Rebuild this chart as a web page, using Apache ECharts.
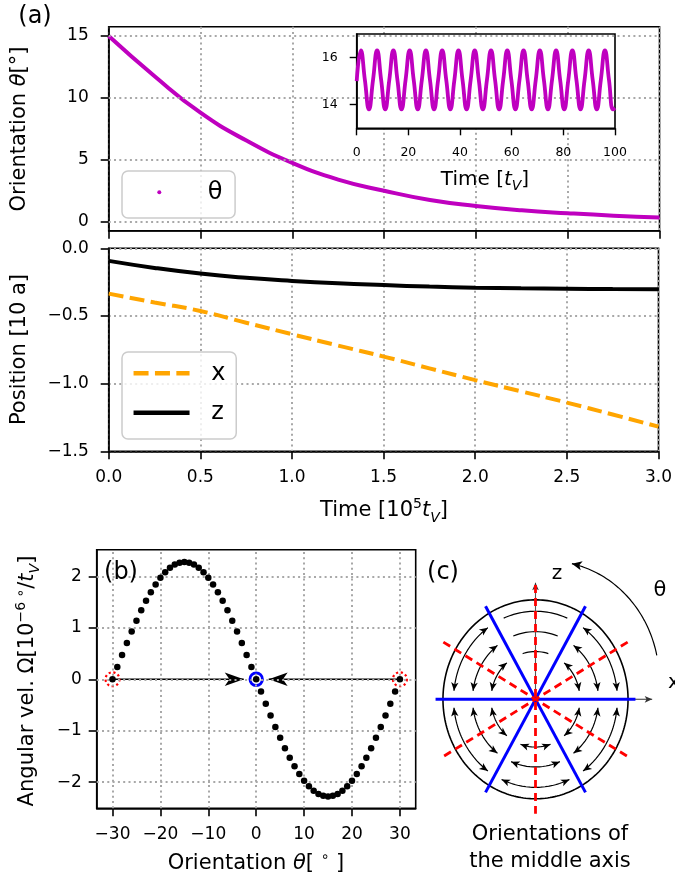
<!DOCTYPE html>
<html>
<head>
<meta charset="utf-8">
<script src="https://cdn.jsdelivr.net/npm/echarts@6/dist/echarts.min.js"></script>
<style>
html,body{margin:0;padding:0;background:#fff;}
#chart{width:675px;height:879px;}
</style>
</head>
<body>
<div id="chart"></div>
<script>
// ---------- (a) orientation and position vs. time (time in 1e5 t_V) ----------
const timeA  = [0, 0.25, 0.5, 0.75, 1.0, 1.25, 1.5, 1.75, 2.0, 2.25, 2.5, 2.75, 3.0];
const thetaA = [15.0, 11.75, 8.8, 6.55, 4.75, 3.4, 2.5, 1.75, 1.27, 0.92, 0.68, 0.48, 0.33];
const posX   = [-0.335, -0.40, -0.463, -0.55, -0.635, -0.718, -0.80, -0.887, -0.974, -1.057, -1.14, -1.228, -1.318];
const posZ   = [-0.093, -0.145, -0.187, -0.218, -0.241, -0.259, -0.272, -0.283, -0.291, -0.296, -0.299, -0.301, -0.302];

// inset: short-time oscillation of theta (time in t_V)
const insetTime = [0,
  1.6, 3.17, 4.75, 6.32, 7.9, 9.47, 11.05, 12.62, 14.2, 15.77, 17.35, 18.92,
  20.5, 22.07, 23.65, 25.22, 26.8, 28.37, 29.95, 31.52, 33.1, 34.67, 36.25, 37.82,
  39.4, 40.97, 42.55, 44.12, 45.7, 47.27, 48.85, 50.42, 52.0, 53.57, 55.15, 56.72,
  58.3, 59.87, 61.45, 63.02, 64.6, 66.17, 67.75, 69.32, 70.9, 72.47, 74.05, 75.62,
  77.2, 78.77, 80.35, 81.92, 83.5, 85.07, 86.65, 88.22, 89.8, 91.37, 92.95, 94.52,
  96.1, 97.67, 99.25, 100];
const insetTheta = [15.0,
  16.3, 15.05, 13.8, 15.05, 16.3, 15.05, 13.8, 15.05, 16.3, 15.05, 13.8, 15.05,
  16.3, 15.05, 13.8, 15.05, 16.3, 15.05, 13.8, 15.05, 16.3, 15.05, 13.8, 15.05,
  16.3, 15.05, 13.8, 15.05, 16.3, 15.05, 13.8, 15.05, 16.3, 15.05, 13.8, 15.05,
  16.3, 15.05, 13.8, 15.05, 16.3, 15.05, 13.8, 15.05, 16.3, 15.05, 13.8, 15.05,
  16.3, 15.05, 13.8, 15.05, 16.3, 15.05, 13.8, 15.05, 16.3, 15.05, 13.8, 15.05,
  16.3, 15.05, 13.8, 13.87];

// tick values
const thetaTicks = [0, 5, 10, 15];
const insetYTicks = [14, 16];

// ---------- (b) angular velocity vs. orientation ----------
const thetaB = [-30,-29,-28,-27,-26,-25,-24,-23,-22,-21,-20,-19,-18,-17,-16,-15,-14,-13,-12,-11,-10,
  -9,-8,-7,-6,-5,-4,-3,-2,-1,0,1,2,3,4,5,6,7,8,9,10,11,12,13,14,15,16,17,18,19,20,
  21,22,23,24,25,26,27,28,29,30];
const omegaB = [0, 0.238, 0.474, 0.705, 0.927, 1.14, 1.34, 1.526, 1.694, 1.845, 1.975, 2.083, 2.168, 2.23, 2.267,
  2.28, 2.267, 2.23, 2.168, 2.083, 1.975, 1.845, 1.694, 1.526, 1.34, 1.14, 0.927, 0.705, 0.474, 0.238,
  0, -0.238, -0.474, -0.705, -0.927, -1.14, -1.34, -1.526, -1.694, -1.845, -1.975, -2.083, -2.168, -2.23, -2.267,
  -2.28, -2.267, -2.23, -2.168, -2.083, -1.975, -1.845, -1.694, -1.526, -1.34, -1.14, -0.927, -0.705, -0.474, -0.238, 0];
const unstableB = [-30, 30];   // unstable fixed points
const stableB = [0];           // stable fixed point
const thetaBTicks = [-30, -20, -10, 0, 10, 20, 30];
const omegaBTicks = [-2, -1, 0, 1, 2];

// ---------- (c) schematic of middle-axis orientations ----------
const stableDeg = [0, 60, 120];     // solid blue directions
const unstableDeg = [30, 90, 150];  // dashed red directions
const ringR = [0.48, 0.68, 0.885];  // flow rings (outer circle = 1)
const plainSectors = [60];          // sector drawn without arrow heads

const FONT = 'DejaVu Sans';
const DEG = Math.PI / 180;
const GRID_LINE = {color: '#a8a8a8', width: 2, type: [2, 3.3]};
const minus = v => (v < 0 ? '\u2212' : '') + Math.abs(v);
const fixed1 = v => (v < 0 ? '\u2212' : '') + Math.abs(v).toFixed(1);

function valueAxis(gridIndex, o) {
  const base = {
    type: 'value', gridIndex,
    axisLine: {show: true, onZero: false, lineStyle: {color: '#000', width: 1.6}},
    axisTick: {show: true, inside: false, length: 8, lineStyle: {color: '#000', width: 1.6}},
    axisLabel: {color: '#000', fontSize: 17, fontFamily: FONT, margin: 20},
    splitLine: {show: false}
  };
  for (const k in o) {
    if (base[k] && typeof base[k] === 'object' && !Array.isArray(base[k]) && typeof o[k] === 'object' && !Array.isArray(o[k])) {
      base[k] = Object.assign({}, base[k], o[k]);
    } else base[k] = o[k];
  }
  return base;
}

// dotted reference lines drawn as mark lines of an empty series
function refLines(ai, xs, ys) {
  return {
    type: 'line', xAxisIndex: ai, yAxisIndex: ai, data: [], silent: true, z: 1,
    markLine: {
      silent: true, symbol: ['none', 'none'], label: {show: false}, animation: false,
      lineStyle: GRID_LINE, emphasis: {disabled: true},
      data: xs.map(v => ({xAxis: v})).concat(ys.map(v => ({yAxis: v})))
    }
  };
}

const zip = (a, b) => a.map((v, i) => [v, b[i]]);
const SOLID = c => ({color: c, opacity: 1});

// ---------- (c) geometry built from the direction lists ----------
const U = 99.5;  // px per unit radius in panel (c)
const pt = (r, deg, c) => [(c ? c[0] : 0) + r * Math.cos(deg * DEG), (c ? c[1] : 0) + r * Math.sin(deg * DEG)];
function arc(r, a0, a1, c) {
  const n = Math.max(2, Math.ceil(Math.abs(a1 - a0) / 1.5));
  const out = [];
  for (let k = 0; k <= n; k++) out.push(pt(r, a0 + (a1 - a0) * k / n, c));
  return out;
}
function cLine(data, lineStyle, z) {
  return {type: 'line', xAxisIndex: 4, yAxisIndex: 4, data, symbol: 'none', smooth: false,
          silent: true, z, lineStyle, clip: false};
}
const cSeries = [];
const heads = [];
// outer circle
cSeries.push(cLine(arc(1, 0, 360), {color: '#000', width: 1.6}, 2));
// flow rings between neighbouring stable directions
const dirs = stableDeg.flatMap(a => [a, a + 180]).sort((a, b) => a - b);
dirs.forEach((s, i) => {
  const e = i + 1 < dirs.length ? dirs[i + 1] : dirs[0] + 360;
  const plain = plainSectors.includes(s);
  ringR.forEach(r => {
    const g = ((plain ? 11 : 8.5) / U) / r / DEG;
    cSeries.push(cLine(arc(r, s + g, e - g), {color: '#000', width: 1.2}, 2));
    if (!plain) {
      heads.push({value: pt(r, s + g), symbolRotate: s + g - 180});
      heads.push({value: pt(r, e - g), symbolRotate: e - g});
    }
  });
});
cSeries.push({type: 'scatter', xAxisIndex: 4, yAxisIndex: 4, data: heads, symbol: 'arrow',
  symbolSize: [5.5, 8.5], itemStyle: SOLID('#000'), silent: true, z: 3});
// coordinate axes z (up) and x (right)
const zLen = 1.206, xLen = 1.296, axHead = 3.5 / U;
cSeries.push(cLine([[0, 0], [0, zLen - axHead]], {color: '#555', width: 1.1}, 2));
cSeries.push(cLine([[0, 0], [xLen - axHead, 0]], {color: '#333', width: 1.1}, 2));
cSeries.push({type: 'scatter', xAxisIndex: 4, yAxisIndex: 4, symbol: 'arrow', symbolSize: [5, 7.5],
  data: [{value: [0, zLen - axHead], symbolRotate: 0}, {value: [xLen - axHead, 0], symbolRotate: -90}],
  itemStyle: SOLID('#333'), silent: true, z: 3});
// stable (blue) and unstable (red dashed) directions
stableDeg.forEach(a => cSeries.push(cLine([pt(1.08, a + 180), pt(1.08, a)], {color: '#0000ff', width: 3}, 4)));
unstableDeg.forEach(a => cSeries.push(cLine([pt(1.15, a), pt(1.15, a + 180)], {color: '#ff0000', width: 2.8, type: [8, 5]}, 5)));
// rotation-angle arrow
const thC = [14 / U, 19.3 / U], thR = 119 / U, thEnd = 77.8;
cSeries.push(cLine(arc(thR, 12, thEnd, thC), {color: '#000', width: 1.2}, 2));
cSeries.push({type: 'scatter', xAxisIndex: 4, yAxisIndex: 4, symbol: 'arrow', symbolSize: [7, 10],
  data: [{value: pt(thR, thEnd, thC), symbolRotate: thEnd}], itemStyle: SOLID('#000'), silent: true, z: 3});

// ---------- (b) flow arrows between fixed points ----------
const arrowGap = 2.6;
const bArrowLines = unstableB.map(u => {
  const s = stableB[0];
  const end = s + Math.sign(u - s) * arrowGap;
  return {type: 'line', xAxisIndex: 3, yAxisIndex: 3, data: [[u, 0], [end, 0]], symbol: 'none',
          lineStyle: {color: '#000', width: 1.6}, silent: true, z: 3};
});
const bArrowHeads = {type: 'scatter', xAxisIndex: 3, yAxisIndex: 3, symbol: 'arrow', symbolSize: [10, 19],
  data: unstableB.map(u => ({value: [stableB[0] + Math.sign(u - stableB[0]) * arrowGap, 0],
                             symbolRotate: u < stableB[0] ? -90 : 90})),
  itemStyle: SOLID('#000'), silent: true, z: 3};

// ---------- text helpers ----------
function txt(text, x, y, size, extra, rot) {
  const el = {type: 'text', x, y, silent: true, z: 20,
    style: Object.assign({text, fontSize: size, fontFamily: FONT, fill: '#000',
      align: 'center', verticalAlign: 'middle', textAlign: 'center', textVerticalAlign: 'middle'}, extra || {})};
  if (rot) el.rotation = rot;
  return el;
}
function mathRich(size) {
  return {
    i: {fontStyle: 'italic', fontSize: size, fontFamily: FONT, fill: '#000'},
    sup: {fontSize: Math.round(size * 0.68), verticalAlign: 'top', fontFamily: FONT, fill: '#000'},
    sub: {fontSize: Math.round(size * 0.68), verticalAlign: 'bottom', fontStyle: 'italic', fontFamily: FONT, fill: '#000'}
  };
}

const option = {
  animation: false,
  backgroundColor: '#fff',
  textStyle: {fontFamily: FONT},
  grid: [
    {left: 108.7, top: 26.7, width: 550.8, height: 204, show: true, borderColor: '#000', borderWidth: 1.6},
    {left: 108.7, top: 248.3, width: 550.8, height: 203, show: true, borderColor: '#000', borderWidth: 1.6},
    {left: 356.7, top: 34, width: 258.3, height: 94.3, show: true, borderColor: '#000', borderWidth: 1.6,
     backgroundColor: '#fff', z: 5},
    {left: 96.7, top: 549.7, width: 319, height: 258.6, show: true, borderColor: '#000', borderWidth: 1.6},
    {left: 396, top: 549.3, width: 300, height: 300, show: false}
  ],
  xAxis: [
    valueAxis(0, {min: 0, max: 3, interval: 0.5, axisLabel: {show: false},
                  splitLine: {show: true, lineStyle: GRID_LINE}}),
    valueAxis(1, {min: 0, max: 3, interval: 0.5, axisLabel: {formatter: fixed1, margin: 18},
                  splitLine: {show: true, lineStyle: GRID_LINE}}),
    valueAxis(2, {min: 0, max: 100, interval: 20, z: 6,
                  axisTick: {length: 7, lineStyle: {color: '#000', width: 1.4}},
                  axisLabel: {fontSize: 12.5, margin: 18}}),
    valueAxis(3, {min: -33.3, max: 33.3, axisTick: {customValues: thetaBTicks},
                  axisLabel: {customValues: thetaBTicks, formatter: minus, margin: 18}}),
    {type: 'value', gridIndex: 4, min: -150 / U, max: 150 / U, show: false}
  ],
  yAxis: [
    valueAxis(0, {min: -0.73, max: 15.75, axisTick: {customValues: thetaTicks},
                  axisLabel: {customValues: thetaTicks, formatter: minus}}),
    valueAxis(1, {min: -1.5, max: 0, interval: 0.5, axisLabel: {formatter: fixed1},
                  splitLine: {show: true, lineStyle: GRID_LINE}}),
    valueAxis(2, {min: 13, max: 17, z: 6,
                  axisTick: {customValues: insetYTicks, length: 7, lineStyle: {color: '#000', width: 1.4}},
                  axisLabel: {customValues: insetYTicks, fontSize: 12.5, margin: 19}}),
    valueAxis(3, {min: -2.51, max: 2.52, axisTick: {customValues: omegaBTicks},
                  axisLabel: {customValues: omegaBTicks, formatter: minus, margin: 15}}),
    {type: 'value', gridIndex: 4, min: -150 / U, max: 150 / U, show: false}
  ],
  legend: [
    {data: [{name: '\u03b8', icon: 'circle'}], left: 122, top: 171, orient: 'vertical', selectedMode: false,
     itemWidth: 56, itemHeight: 4, padding: [7.3, 12.7, 11.7, 35.3],
     backgroundColor: 'rgba(255,255,255,0.8)', borderColor: '#cccccc', borderWidth: 1.5, borderRadius: 6,
     textStyle: {fontSize: 24, fontFamily: FONT, color: '#000', lineHeight: 28, padding: [0, 0, 0, 15.4]}},
    {data: ['x', 'z'], left: 122, top: 352, orient: 'vertical', selectedMode: false,
     itemWidth: 56, itemHeight: 14, itemGap: 11.4, padding: [7.3, 10.8, 12.3, 9.3],
     itemStyle: {opacity: 0, borderWidth: 0}, lineStyle: {width: 4.5},
     backgroundColor: 'rgba(255,255,255,0.8)', borderColor: '#cccccc', borderWidth: 1.5, borderRadius: 6,
     textStyle: {fontSize: 24, fontFamily: FONT, color: '#000', lineHeight: 28, padding: [0, 0, 0, 16.7]}}
  ],
  series: [
    refLines(0, [], thetaTicks),
    {name: '\u03b8', type: 'line', xAxisIndex: 0, yAxisIndex: 0, data: zip(timeA, thetaA), smooth: true,
     symbol: 'none', lineStyle: {color: '#bf00bf', width: 4}, itemStyle: {color: '#bf00bf'}, z: 3},
    {type: 'line', xAxisIndex: 2, yAxisIndex: 2, data: zip(insetTime, insetTheta), smooth: true,
     symbol: 'none', lineStyle: {color: '#bf00bf', width: 3.8}, z: 7},
    {name: 'x', type: 'line', xAxisIndex: 1, yAxisIndex: 1, data: zip(timeA, posX), smooth: true,
     symbol: 'none', lineStyle: {color: '#ffa500', width: 4, type: [15, 6.4]}, itemStyle: {color: '#ffa500'}, z: 3},
    {name: 'z', type: 'line', xAxisIndex: 1, yAxisIndex: 1, data: zip(timeA, posZ), smooth: true,
     symbol: 'none', lineStyle: {color: '#000', width: 4}, itemStyle: {color: '#000'}, z: 3},
    refLines(3, thetaBTicks, omegaBTicks),
    ...bArrowLines,
    bArrowHeads,
    {type: 'scatter', xAxisIndex: 3, yAxisIndex: 3, data: unstableB.map(u => [u, 0]), symbol: 'circle',
     symbolSize: 14, itemStyle: {color: 'rgba(0,0,0,0)', opacity: 1, borderColor: '#ff0000', borderWidth: 2.2, borderType: [2.2, 2.6]},
     silent: true, z: 4},
    {type: 'scatter', xAxisIndex: 3, yAxisIndex: 3, data: stableB.map(s => [s, 0]), symbol: 'circle',
     symbolSize: 12.5, itemStyle: {color: 'rgba(0,0,0,0)', opacity: 1, borderColor: '#0000ff', borderWidth: 2.8},
     silent: true, z: 4},
    {type: 'scatter', xAxisIndex: 3, yAxisIndex: 3, data: zip(thetaB, omegaB), symbol: 'circle',
     symbolSize: 6.5, itemStyle: SOLID('#000'), silent: true, z: 5},
    ...cSeries
  ],
  graphic: [
    txt('(a)', 35, 17, 24),
    txt('(b)', 121, 573, 24),
    txt('(c)', 443, 573, 24),
    txt('Orientation {i|\u03b8}[\u00b0]', 20, 129, 21, {rich: mathRich(21)}, Math.PI / 2),
    txt('Position [10 a]', 20, 349.5, 21, null, Math.PI / 2),
    txt('Time [10{sup|5}{i|t}{sub|V}]', 384, 511, 21, {rich: mathRich(21), lineHeight: 28}),
    txt('Time [{i|t}{sub|V}]', 485, 180, 20, {rich: mathRich(20), lineHeight: 27}),
    txt('Angular vel. \u03a9[10{sup|\u22126 \u2218}/{i|t}{sub|V}]', 28, 681, 21, {rich: mathRich(21), lineHeight: 28}, Math.PI / 2),
    txt('Orientation {i|\u03b8}[ {sup|\u2218} ]', 256, 864, 21, {rich: mathRich(21), lineHeight: 28}),
    txt('z', 557, 574, 20),
    txt('x', 668, 683, 20, {align: 'left', textAlign: 'left'}),
    txt('\u03b8', 660, 591, 21),
    txt('Orientations of\nthe middle axis', 550, 848, 21, {lineHeight: 26.7})
  ]
};

const chart = echarts.init(document.getElementById('chart'), null, {renderer: 'canvas', width: 675, height: 879});
chart.setOption(option);
</script>
</body>
</html>
